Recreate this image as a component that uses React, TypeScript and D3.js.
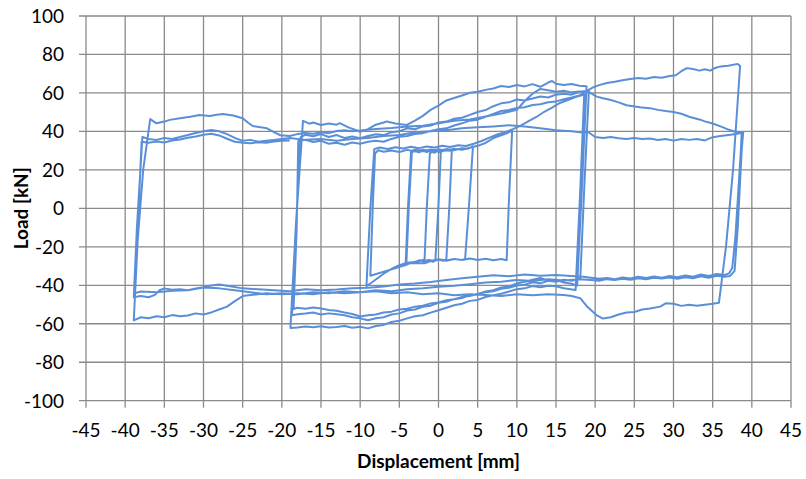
import React from 'react';
import * as d3 from 'd3';

type Pt = [number, number]; // [displacement mm, load kN]

// tick values
const xTicks = d3.range(-45, 46, 5);
const yTicks = d3.range(-100, 101, 20);

// small cycles (about ±1 ... ±9 mm)
const cycleS1: Pt[] = [[-1.8,-28.5],[-1.5,0],[-1.1,28.6],[-0.8,29.4],[-0.5,28.9],[-0.2,29.7],[0.1,29.2],[0.3,29.8],[0,2],[-0.4,-27.2],[-0.7,-27.8],[-1.0,-27.3],[-1.4,-28.1],[-1.8,-28.5]];
const cycleS2: Pt[] = [[-4.1,-28.6],[-3.8,0],[-3.4,29.2],[-3,29.8],[-2.5,29.1],[-2,30],[-1.5,29.3],[-1,30.1],[-0.5,29.5],[0,30.3],[0.5,29.6],[1,30.4],[1.4,29.9],[1.7,30.6],[1.4,2],[1.0,-26.5],[0.6,-27.2],[0,-26.6],[-0.6,-27.4],[-1.2,-26.8],[-1.8,-27.6],[-2.4,-27],[-3,-27.9],[-3.6,-28.1],[-4.1,-28.8]];
const cycleS3: Pt[] = [[-4.2,-29.5],[-3.9,0],[-3.5,29.8],[-3,30.5],[-2,29.7],[-1,30.6],[0,29.9],[1,30.8],[2,30.2],[3,31.3],[3.8,31],[4.4,32.2],[3.9,2],[3.4,-26.2],[3,-26.9],[2,-26.3],[1,-27.1],[0,-26.5],[-1,-27.4],[-2,-26.9],[-3,-27.8],[-3.6,-28.4],[-4.2,-29.5]];
const cycleS4: Pt[] = [[-8.7,-35],[-8.4,0],[-8.1,28.5],[-7.7,30.2],[-7,29.4],[-6,30.1],[-5,29.3],[-4,30.4],[-3,29.6],[-2,30.5],[-1,29.8],[0,30.7],[1,30],[2,31],[3,30.4],[4,31.5],[5,32.5],[6,34],[7,36.5],[8,38],[8.8,39.2],[9.4,40.3],[9.0,5],[8.7,-27],[8,-26.3],[7,-27],[6,-26.2],[5,-26.8],[4,-26.1],[3,-26.9],[2,-26.3],[1,-27.2],[0,-26.6],[-1,-27.5],[-2,-27],[-3,-27.9],[-4,-28.3],[-5,-29.5],[-6,-31.5],[-7,-34],[-8,-37],[-9.2,-40.5]];

// ±19 mm cycles
const upper19_0: Pt[] = [[-9.2,-40.5],[-8.7,0],[-8.2,30.8],[-7.5,31.6],[-6.5,30.9],[-5.5,31.8],[-4.5,31.1],[-3.5,32],[-2.5,31.3],[-1.5,32.2],[-0.5,31.6],[0.5,32.5],[1.5,31.9],[2.5,32.8],[3.5,32.4],[4.5,33.6],[5.5,35],[6.5,36.8],[7.5,38.4],[8.5,39.6],[9.5,41.2],[10.5,43],[11.5,45.4],[12.5,47.5],[13.5,50.2],[14.5,52.4],[15.5,54.8],[16.5,56.3],[17.5,57.9],[18.6,59.2]];
const lower19_1: Pt[] = [[18.6,59.2],[18.1,10],[17.5,-42.5],[16,-41.5],[15,-40.5],[14,-40.2],[13,-41],[12,-40.4],[11,-41.6],[10,-42],[9,-43.2],[8,-44.4],[7,-45.2],[6,-46.1],[5,-47.6],[4,-48.1],[3,-49.6],[2,-50.4],[1,-51.7],[0,-53],[-1,-54.2],[-2,-55.6],[-3,-56.1],[-4,-57.2],[-5,-58.4],[-6,-59.1],[-7,-60.6],[-8,-61.2],[-9,-62.4],[-10,-61.6],[-11,-62.1],[-12,-61.2],[-13,-61.7],[-14,-61.9],[-15,-61.3],[-16,-61.8],[-17,-61.4],[-18,-61.9],[-18.9,-62.2]];
const upper19_1: Pt[] = [[-18.9,-62.2],[-18.2,-8],[-17.3,45.5],[-16.5,44],[-16,44.6],[-15,43.3],[-14,44.1],[-13,43.5],[-12.6,44.3],[-11.5,42.1],[-10.5,40.6],[-10,39.8],[-9,41.2],[-8,43.5],[-7,44.6],[-6.6,45.2],[-5.5,44.1],[-4.1,43.3],[-3,45.6],[-2,48.1],[-1,51.2],[0,53.4],[1,56.1],[2,57.4],[3,58.7],[4,60.1],[5,60.6],[6,61.6],[7,62.3],[8,63.6],[9,63.1],[10,64.1],[11,63.4],[12,64.6],[13,63.2],[14,65.4],[14.5,66.2],[15,64.8],[16,64.1],[17,64.6],[18,63.7],[18.9,63.5]];
const lower19_2: Pt[] = [[18.9,63.5],[18.3,10],[17.7,-40.2],[17,-39.2],[16,-38.6],[15,-37.1],[14,-37.6],[13,-36.2],[12,-37.1],[11,-38.2],[10,-39.1],[9,-40.6],[8,-41.1],[7,-42.6],[6,-43.2],[5,-44.6],[4,-45.1],[3,-46.6],[2,-47.2],[1,-48.6],[0,-49.1],[-1,-50.6],[-2,-51.2],[-3,-52.6],[-4,-53.1],[-5,-54.6],[-6,-55.2],[-7,-56.6],[-8,-57.1],[-9,-58.2],[-10,-57.2],[-11,-56.6],[-12,-55.6],[-13,-55.1],[-14,-54.6],[-15,-55.2],[-16,-54.1],[-17,-54.7],[-18,-55.1],[-18.7,-55.6]];
const upper19_2: Pt[] = [[-18.7,-55.6],[-18.2,-10],[-17.6,37],[-17,38.2],[-16,37.5],[-15,38.6],[-14,37.1],[-13,38.1],[-12,36.6],[-11,37.3],[-10,36.5],[-9,37.6],[-8,38.5],[-7,38.1],[-6,39.6],[-5,40.1],[-4,41.6],[-3,41.1],[-2,42.6],[-1,43.1],[0,44.6],[1,45.1],[2,46.6],[3,47.1],[4,48.6],[5,50.1],[6,51.1],[7,53.1],[8,54.6],[9,55.1],[10,56.6],[11,56.1],[12,57.1],[13,58.1],[14,57.6],[15,59.1],[16,59.6],[17,59.1],[18,60.6],[19.2,61.2]];
const lower19_3: Pt[] = [[19.2,61.2],[18.6,10],[18.1,-36.5],[17,-37.6],[16,-37.1],[15,-38.2],[14,-37.7],[13,-38.9],[12,-38.4],[11,-39.7],[10,-40.1],[9,-41.3],[8,-41.8],[7,-43.1],[6,-43.6],[5,-44.4],[4,-45.6],[3,-46.1],[2,-47.2],[1,-47.8],[0,-48.9],[-1,-49.4],[-2,-50.6],[-3,-51.1],[-4,-52.2],[-5,-52.6],[-6,-53.7],[-7,-54.1],[-8,-55.2],[-9,-55.6],[-10,-56.2],[-11,-54.9],[-12,-54.1],[-13,-53.2],[-14,-52.8],[-15,-52.1],[-16,-51.6],[-17,-52.2],[-18,-51.7],[-18.5,-52.3]];

// ±38 mm cycles
const upper38_1: Pt[] = [[-18.5,-52.3],[-18.1,-10],[-17.9,35],[-17,35.6],[-16,34.5],[-15,35.1],[-14,33.6],[-13,34.1],[-12,33.1],[-11,34.2],[-10,33.6],[-9,34.6],[-8,35.1],[-7,34.6],[-6,36.1],[-5,37.2],[-4,37.6],[-3,38.7],[-2,39.1],[-1,40.2],[0,41.1],[1,41.6],[2,43.1],[3,44.2],[4,45.6],[5,46.1],[6,47.6],[7,49.1],[8,50.6],[9,51.1],[10,52.2],[11,52.6],[12,53.7],[13,54.1],[14,55.2],[15,55.6],[16,56.7],[17,57.6],[18,58.7],[19.1,61.4],[19.8,63],[20.6,64.2],[21.5,65.2],[22.5,65.8],[23.5,66.6],[24.5,67.3],[25.5,67.8],[26.5,67.4],[27.5,68.3],[28.5,67.9],[29.5,68.8],[30.3,69.2],[31,71.3],[31.7,72.9],[32.5,72.4],[33.3,71.6],[34,72.3],[34.7,71.6],[35.3,73],[36,73.8],[37,74.1],[38.2,75.1]];
const lower38_1: Pt[] = [[38.2,75.1],[38.5,74],[37.6,20],[36.7,-20],[35.8,-49.1],[35,-49.6],[34,-50.1],[33,-50.6],[32,-50.1],[31,-50.7],[30,-49.6],[29,-49.4],[28.3,-51.1],[27,-52.1],[26,-52.6],[25,-53.9],[24,-54.1],[23,-55.2],[22,-56.6],[21,-57.3],[20.2,-55.6],[19,-51.2],[18.1,-46.7],[17,-45.6],[16,-45.1],[14,-44.6],[12,-45.2],[10,-44.6],[8,-45.6],[6,-45.1],[4,-44.6],[2,-45.2],[0,-44.1],[-2,-44.6],[-4,-43.6],[-6,-44.2],[-8,-43.1],[-10,-43.6],[-12,-44.1],[-14,-43.6],[-16,-44.6],[-18,-44.1],[-20,-44.6],[-22,-44.1],[-24,-45.1],[-25,-45.6],[-26,-48.2],[-27,-51.1],[-28,-52.6],[-29,-54.1],[-30,-55.2],[-31,-54.6],[-32,-55.7],[-33,-56.1],[-34,-55.5],[-35,-56.6],[-36,-56.1],[-37,-57.1],[-38,-56.6],[-38.9,-58.2]];
const upper38_2: Pt[] = [[-38.9,-58.2],[-38.4,-16.5],[-37.7,20],[-36.8,46.4],[-36,44.2],[-35,45.1],[-34.3,46],[-33,46.8],[-31.7,47.6],[-30.5,48.5],[-29.2,48],[-28.3,48.7],[-27.5,49],[-26.2,48.3],[-25,46.8],[-24.3,44.5],[-23.7,42.8],[-21.9,41.6],[-21,39.6],[-20.2,38],[-19,37.6],[-18,38.6],[-17,39.2],[-16,38.8],[-15,39.6],[-14,39.1],[-13,40.2],[-12,40.6],[-11,40.1],[-10,40.5],[-8,41.2],[-6,41.8],[-4,42.6],[-2,43],[0,44.2],[2,45.5],[4,46.2],[6,47.8],[8,49.3],[9,50.2],[10,51.2],[11,55.8],[12,59.6],[13,62.1],[14,61.4],[15,60.6],[16,61.1],[17,60.3],[18,60.7],[19,60.9],[20.2,58.1],[21,57.2],[22,56.3],[23,55.1],[24,53.6],[25.7,52.6],[27,52.1],[28,51.2],[29,50.6],[30,50.1],[31,49.2],[32,47.6],[33.4,46.1],[34,45.2],[35,44.1],[36,42.6],[37.2,40.7],[38,39.6],[38.7,39.1]];
const lower38_2: Pt[] = [[38.7,39.1],[38.6,30],[37.9,-15],[37.5,-31],[37.1,-33.8],[36.5,-34.6],[35.5,-34.1],[34.5,-35.2],[33.5,-34.4],[32.5,-35.6],[31.5,-34.9],[30.5,-35.8],[29.5,-35.2],[28.5,-36.1],[27.5,-35.4],[26.5,-36.2],[25.5,-35.6],[24.5,-36.5],[23.5,-35.9],[22.5,-36.8],[21.5,-36.2],[20.5,-36.6],[19.5,-36.1],[18.5,-35.6],[17,-35.2],[15,-34.6],[13,-35.1],[11,-34.4],[9,-35.3],[7,-34.8],[5,-35.6],[3,-36.4],[1,-37.2],[-1,-38.3],[-3,-39.1],[-5,-39.6],[-7,-40.6],[-9,-41.3],[-11,-41.6],[-13,-42.2],[-15,-42.6],[-17,-42.1],[-19,-43.1],[-21,-42.6],[-23,-42.1],[-25,-41.6],[-27,-40.2],[-28,-39.6],[-29,-40.1],[-30,-41],[-31,-41.6],[-32,-42.6],[-33,-42.1],[-34,-42.3],[-35,-41.6],[-35.6,-42.5],[-36.2,-45],[-37,-46.2],[-38,-45.6],[-38.9,-46.2]];
const upper38_3: Pt[] = [[-38.9,-46.2],[-38.5,-10],[-37.8,37.1],[-37,36.1],[-36,35.6],[-35,36.6],[-34,36.1],[-33,37.1],[-32,38.1],[-31,39.2],[-30,40.1],[-29,40.7],[-28,40.1],[-27,38.6],[-26,36.6],[-25,35.1],[-24,35.6],[-23,34.6],[-22,35.1],[-21,35.6],[-20,36.1],[-19,36.6],[-17,35.6],[-15,36.1],[-13,35.2],[-11,36.1],[-9,36.6],[-7,37.6],[-5,38.1],[-3,39.6],[-1,40.1],[1,40.6],[3,41.6],[5,42.1],[7,42.6],[9,43.2],[11,42.6],[13,41.6],[15,40.6],[17,40.1],[18,39.6],[19.1,39.7],[20,37.1],[21,36.6],[22,37.1],[23,36.5],[24,36.1],[25,36.6],[26,36],[27,36.3],[28,35.5],[29,36.1],[30,35.2],[31,36],[32,35.6],[33,36.1],[34,35.3],[35,37],[36,37.6],[37,38.1],[38,38.6],[38.9,39.6]];
const lower38_3: Pt[] = [[38.9,39.6],[38.7,30],[38.2,-10],[37.8,-32.5],[37.2,-35.2],[36.5,-35.6],[35.5,-35.1],[34.5,-36.1],[33.5,-35.3],[32.5,-36.3],[31.5,-35.8],[30.5,-36.6],[29.5,-35.9],[28.5,-36.5],[27.5,-36.1],[26.5,-36.9],[25.5,-36.3],[24.5,-37.1],[23.5,-36.6],[22.5,-37.3],[21.5,-36.8],[20.5,-37.6],[19.5,-37.2],[18,-36.8],[16,-37.5],[14,-36.9],[12,-37.8],[10,-37.2],[8,-38.1],[6,-38.6],[4,-39.4],[2,-40.3],[0,-40.8],[-2,-41.6],[-4,-42.1],[-6,-43.1],[-8,-42.6],[-10,-43.6],[-12,-43.1],[-14,-44.1],[-16,-43.6],[-18,-44.6],[-20,-44.1],[-22,-44.6],[-24,-43.6],[-26,-42.6],[-28,-41.6],[-30,-41.1],[-32,-42.6],[-34,-42.9],[-36,-43.6],[-38,-43.2],[-38.8,-44.1]];
const upper38_4: Pt[] = [[-38.8,-44.1],[-38.4,-10],[-37.9,34.6],[-37,34.1],[-36,34.8],[-35,34.2],[-34,35.3],[-33,35.8],[-32,36.7],[-31,37.4],[-30,38.3],[-29,38.8],[-28,37.9],[-27,36.2],[-26,34.6],[-25,34.1],[-24,33.9],[-23,34.4],[-22,34.1],[-21,34.8],[-20,35.1],[-19,35.3]];

const branches: Pt[][] = [
  cycleS1, cycleS2, cycleS3, cycleS4,
  upper19_0, lower19_1, upper19_1, lower19_2, upper19_2, lower19_3,
  upper38_1, lower38_1, upper38_2, lower38_2, upper38_3, lower38_3, upper38_4,
];

const W = 806;
const H = 479;
const left = 86;
const right = 791;
const top = 16;
const bottom = 400.7;

const gridColor = '#8a8a8a';
const lineColor = '#5a8fd8';
const font = 'Lato, "Open Sans", sans-serif';

const App: React.FC = () => {
  const x = d3.scaleLinear().domain([-45, 45]).range([left, right]);
  const y = d3.scaleLinear().domain([-100, 100]).range([bottom, top]);

  const line = d3
    .line<Pt>()
    .x((d) => x(d[0]))
    .y((d) => y(d[1]));

  const path = line(branches.flat()) || '';

  return (
    <svg
      width={W}
      height={H}
      style={{ position: 'absolute', left: 0, top: 0, background: '#fff' }}
    >
      {/* grid */}
      {xTicks.map((t) => (
        <line key={'gx' + t} x1={x(t)} x2={x(t)} y1={top} y2={bottom + 7} stroke={gridColor} strokeWidth={1.3} />
      ))}
      {yTicks.map((t) => (
        <line key={'gy' + t} x1={left - 7} x2={right} y1={y(t)} y2={y(t)} stroke={gridColor} strokeWidth={1.3} />
      ))}

      {/* data */}
      <path d={path} fill="none" stroke={lineColor} strokeWidth={2} strokeLinejoin="round" />

      {/* tick labels */}
      {yTicks.map((t) => (
        <text key={'ly' + t} x={64} y={y(t)} dy="0.36em" textAnchor="end" fontFamily={font} fontSize={19} fill="#000">
          {String(t)}
        </text>
      ))}
      {xTicks.map((t) => (
        <text key={'lx' + t} x={x(t)} y={437} textAnchor="middle" fontFamily={font} fontSize={19} fill="#000">
          {String(t)}
        </text>
      ))}

      {/* axis titles */}
      <text x={(left + right) / 2} y={468} textAnchor="middle" fontFamily={font} fontSize={19} fontWeight="bold">
        Displacement [mm]
      </text>
      <text
        transform={`translate(28,${y(0)}) rotate(-90)`}
        textAnchor="middle"
        fontFamily={font}
        fontSize={19}
        fontWeight="bold"
      >
        Load [kN]
      </text>
    </svg>
  );
};

export default App;
